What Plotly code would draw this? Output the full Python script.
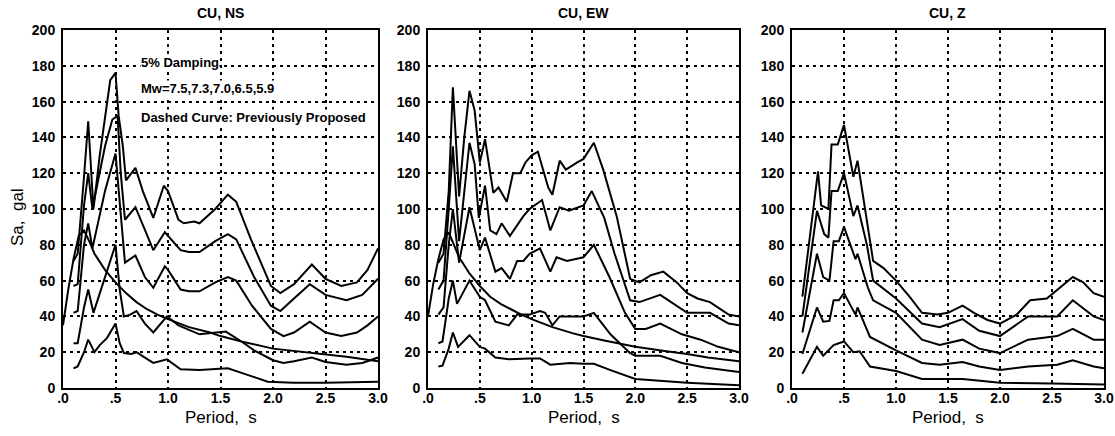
import plotly.graph_objects as go

# ---- CU, NS ----
ns_m75_t = [0.10, 0.14, 0.20, 0.24, 0.29, 0.35, 0.45, 0.50, 0.53, 0.57, 0.60, 0.69, 0.76, 0.86, 0.96, 1.00, 1.10, 1.15,
            1.25, 1.30, 1.45, 1.57, 1.65, 1.79, 1.90, 1.98, 2.07, 2.20, 2.37, 2.50, 2.65, 2.80, 2.90, 3.00]
ns_m75_sa = [71, 75, 118, 149, 100, 130, 172, 176, 152, 135, 116, 123, 110, 95, 113, 110, 94, 92,
             93, 92, 100, 108, 104, 83, 68, 57, 53, 58, 69, 61, 57, 59, 66, 78]
ns_m73_t = [0.10, 0.14, 0.20, 0.24, 0.28, 0.40, 0.47, 0.52, 0.55, 0.59, 0.69, 0.78, 0.86, 0.97, 1.00, 1.12, 1.20, 1.30,
            1.45, 1.57, 1.65, 1.82, 1.98, 2.07, 2.20, 2.35, 2.50, 2.70, 2.85, 3.00]
ns_m73_sa = [57, 58, 102, 120, 100, 135, 150, 152, 120, 94, 101, 88, 77, 87, 85, 77, 76, 76,
             82, 86, 83, 62, 46, 43, 50, 58, 52, 49, 52, 61]
ns_m70_t = [0.10, 0.14, 0.20, 0.24, 0.28, 0.40, 0.50, 0.55, 0.59, 0.69, 0.78, 0.86, 0.97, 1.00, 1.12, 1.20, 1.30, 1.45,
            1.57, 1.65, 1.80, 1.98, 2.10, 2.20, 2.35, 2.50, 2.65, 2.80, 2.90, 3.00]
ns_m70_sa = [42, 43, 80, 92, 78, 110, 131, 95, 70, 74, 62, 56, 68, 66, 55, 54, 54, 59,
             62, 60, 46, 33, 29, 31, 37, 31, 29, 31, 35, 40]
ns_m65_t = [0.10, 0.14, 0.20, 0.24, 0.29, 0.40, 0.50, 0.54, 0.58, 0.64, 0.70, 0.78, 0.86, 0.99, 1.10, 1.30, 1.45, 1.55,
            1.70, 1.82, 2.00, 2.10, 2.20, 2.37, 2.50, 2.70, 2.85, 3.00]
ns_m65_sa = [25, 25, 45, 55, 42, 62, 80, 55, 40, 41, 43, 36, 31, 40, 35, 30, 31, 31.5,
             26, 21, 15.5, 14, 15, 17, 14.5, 13, 14, 17]
ns_m59_t = [0.10, 0.14, 0.20, 0.24, 0.30, 0.35, 0.42, 0.50, 0.54, 0.58, 0.65, 0.70, 0.78, 0.86, 0.99, 1.12, 1.30, 1.57,
            1.75, 1.95, 2.20, 2.50, 3.00]
ns_m59_sa = [11, 12, 20, 27, 20, 24, 28, 36, 25, 19.5, 19, 20, 17, 14, 16, 10.5, 10, 11,
             7.5, 3.5, 3, 3, 3.5]
ns_prev_t = [0.00, 0.05, 0.10, 0.15, 0.20, 0.25, 0.30, 0.40, 0.50, 0.60, 0.70, 0.80, 0.90, 1.00, 1.20, 1.40, 1.50, 1.70,
             2.00, 2.30, 2.50, 2.70, 3.00]
ns_prev_sa = [35, 55, 72, 85, 88, 82, 75, 66, 59, 53, 48, 44, 41, 38.5, 34, 31, 29, 26,
              22, 20, 19, 17.5, 15]

# ---- CU, EW ----
ew_m75_t = [0.10, 0.15, 0.20, 0.24, 0.30, 0.35, 0.40, 0.45, 0.50, 0.55, 0.63, 0.68, 0.76, 0.82, 0.89, 0.94, 1.00, 1.06,
            1.16, 1.20, 1.27, 1.33, 1.44, 1.50, 1.60, 1.69, 1.82, 1.95, 2.04, 2.15, 2.27, 2.40, 2.50, 2.60, 2.72, 2.80,
            2.90, 3.00]
ew_m75_sa = [70, 75, 110, 168, 107, 140, 166, 155, 126, 139, 109, 112, 104, 120, 120, 126, 130, 132,
             112, 108, 127, 122, 126, 128, 137, 122, 96, 61, 59, 63, 65, 59, 53, 50, 48, 45,
             41, 40]
ew_m73_t = [0.10, 0.15, 0.20, 0.24, 0.30, 0.40, 0.45, 0.49, 0.55, 0.60, 0.66, 0.71, 0.79, 0.92, 0.98, 1.10, 1.18, 1.27,
            1.36, 1.50, 1.58, 1.70, 1.80, 1.95, 2.04, 2.24, 2.50, 2.72, 2.90, 3.00]
ew_m73_sa = [55, 60, 100, 135, 82, 137, 125, 95, 113, 88, 86, 92, 85, 96, 100, 105, 88, 101,
             99, 102, 110, 95, 75, 49, 48, 52, 42, 42, 36, 35]
ew_m70_t = [0.10, 0.15, 0.20, 0.24, 0.30, 0.40, 0.50, 0.55, 0.65, 0.71, 0.79, 0.86, 0.92, 0.98, 1.08, 1.18, 1.24, 1.34,
            1.50, 1.60, 1.75, 1.90, 2.00, 2.10, 2.24, 2.45, 2.63, 2.80, 3.00]
ew_m70_sa = [41, 45, 80, 100, 70, 101, 77, 84, 65, 67, 61, 71, 71, 75, 78, 65, 73, 71,
             73, 80, 62, 42, 33, 33, 36, 30, 27, 23, 20]
ew_m65_t = [0.10, 0.14, 0.20, 0.24, 0.28, 0.40, 0.50, 0.55, 0.65, 0.71, 0.78, 0.86, 0.98, 1.08, 1.13, 1.20, 1.27, 1.50,
            1.60, 1.76, 1.95, 2.00, 2.24, 2.45, 2.67, 3.00]
ew_m65_sa = [25, 26, 50, 60, 47, 60, 51, 49, 37, 36, 35, 41, 41, 43, 42, 35, 40, 40,
             42, 30, 19.5, 18, 18, 14, 11.5, 9]
ew_m59_t = [0.10, 0.14, 0.20, 0.24, 0.29, 0.40, 0.50, 0.55, 0.65, 0.78, 0.98, 1.08, 1.18, 1.37, 1.50, 1.60, 1.76, 2.00,
            2.50, 3.00]
ew_m59_sa = [12, 12.5, 22, 31, 23, 29.5, 23, 22, 17, 16, 16.5, 16.5, 13, 14, 13.5, 13.5, 10, 5,
             3, 1.5]
ew_prev_t = [0.00, 0.05, 0.10, 0.15, 0.20, 0.25, 0.30, 0.40, 0.50, 0.60, 0.70, 0.80, 0.90, 1.00, 1.20, 1.40, 1.50, 1.70,
             2.00, 2.30, 2.50, 2.70, 3.00]
ew_prev_sa = [40, 58, 72, 83, 87, 80, 73, 64, 57, 51, 47, 44, 41, 38.5, 34, 30.5, 29, 26.5,
              23, 20.5, 19, 17, 15]

# ---- CU, Z ----
z_m75_t = [0.10, 0.25, 0.28, 0.35, 0.38, 0.44, 0.50, 0.59, 0.63, 0.72, 0.78, 0.88, 1.00, 1.13, 1.25, 1.40, 1.50, 1.64,
           1.75, 1.88, 2.00, 2.16, 2.29, 2.45, 2.55, 2.70, 2.80, 2.90, 3.00]
z_m75_sa = [51, 121, 102, 100, 136, 136, 147, 118, 127, 92, 71, 67, 60, 51, 42, 41, 42, 46,
            42, 38, 36, 41, 49, 50, 55, 62, 59, 53, 51]
z_m73_t = [0.10, 0.24, 0.31, 0.35, 0.38, 0.44, 0.50, 0.59, 0.63, 0.72, 0.78, 1.00, 1.25, 1.42, 1.64, 1.80, 2.00, 2.27,
           2.55, 2.70, 2.90, 3.00]
z_m73_sa = [40, 99, 86, 84, 110, 110, 120, 96, 102, 80, 60, 50, 36, 34, 38.5, 32, 29, 40,
            40, 49, 40, 38]
z_m70_t = [0.10, 0.24, 0.30, 0.36, 0.40, 0.45, 0.50, 0.61, 0.63, 0.73, 0.78, 1.00, 1.25, 1.42, 1.64, 1.80, 2.00, 2.27,
           2.55, 2.70, 2.90, 3.00]
z_m70_sa = [31, 75, 62, 60, 82, 82, 90, 72, 75, 56, 49, 42, 27, 24, 27, 22, 19.5, 27,
            29, 33, 27, 27]
z_m65_t = [0.10, 0.24, 0.30, 0.36, 0.40, 0.45, 0.50, 0.61, 0.63, 0.75, 1.00, 1.25, 1.42, 1.64, 1.80, 2.00, 2.27, 2.55,
           2.70, 2.90, 3.00]
z_m65_sa = [19, 45, 37, 37.5, 49, 49, 53, 41, 45, 28.5, 21, 14, 13, 14.5, 12, 10, 12, 13,
            15.5, 12, 11]
z_m59_t = [0.10, 0.24, 0.30, 0.40, 0.50, 0.59, 0.65, 0.75, 1.00, 1.25, 1.64, 2.00, 2.50, 3.00]
z_m59_sa = [8, 23, 18, 24, 26, 20, 20.5, 12, 9.5, 5, 5, 3, 2.5, 2]

# Axis ticks and labels
x_tick_vals = [0, 0.5, 1.0, 1.5, 2.0, 2.5, 3.0]
x_tick_text = [".0", ".5", "1.0", "1.5", "2.0", "2.5", "3.0"]
y_tick_vals = [0, 20, 40, 60, 80, 100, 120, 140, 160, 180, 200]
panel_titles = ["CU, NS", "CU, EW", "CU, Z"]
note_lines = ["5% Damping", "Mw=7.5,7.3,7.0,6.5,5.9", "Dashed Curve: Previously Proposed"]

W, H = 1115, 436
panel_px = [(63, 378), (428, 739), (792, 1104)]
plot_top, plot_bottom = 30, 388

panels = [
    [(ns_m75_t, ns_m75_sa), (ns_m73_t, ns_m73_sa), (ns_m70_t, ns_m70_sa), (ns_m65_t, ns_m65_sa),
     (ns_m59_t, ns_m59_sa), (ns_prev_t, ns_prev_sa)],
    [(ew_m75_t, ew_m75_sa), (ew_m73_t, ew_m73_sa), (ew_m70_t, ew_m70_sa), (ew_m65_t, ew_m65_sa),
     (ew_m59_t, ew_m59_sa), (ew_prev_t, ew_prev_sa)],
    [(z_m75_t, z_m75_sa), (z_m73_t, z_m73_sa), (z_m70_t, z_m70_sa), (z_m65_t, z_m65_sa),
     (z_m59_t, z_m59_sa)],
]

FONT = "Liberation Sans"
fig = go.Figure()
layout = dict(
    width=W, height=H, margin=dict(l=0, r=0, t=0, b=0, autoexpand=False),
    paper_bgcolor="white", plot_bgcolor="white", showlegend=False,
    font=dict(family=FONT, color="black"),
)
annotations = []

for i, curves in enumerate(panels):
    suffix = "" if i == 0 else str(i + 1)
    xa, ya = "x" + suffix, "y" + suffix
    for t, sa in curves:
        fig.add_trace(go.Scatter(x=t, y=sa, mode="lines", xaxis=xa, yaxis=ya,
                                 line=dict(color="black", width=2), hoverinfo="skip"))
    x0, x1 = panel_px[i]
    common = dict(
        showline=True, mirror=True, linecolor="black", linewidth=2,
        showgrid=True, gridcolor="black", gridwidth=2, griddash="3px,4px",
        zeroline=False, ticks="", automargin=False,
        tickfont=dict(family=FONT, size=14, weight="bold", color="black"),
    )
    layout["xaxis" + suffix] = dict(
        common, domain=[x0 / W, x1 / W], range=[0, 3.0], anchor=ya,
        tickvals=x_tick_vals, ticktext=x_tick_text, ticklabelstandoff=-4,
    )
    layout["yaxis" + suffix] = dict(
        common, domain=[1 - plot_bottom / H, 1 - plot_top / H], range=[0, 200], anchor=xa,
        tickvals=y_tick_vals, ticklabelstandoff=3,
    )
    xc = (x0 + x1) / 2 / W
    annotations.append(dict(text=panel_titles[i], x=xc, y=1 - 13 / H, xref="paper", yref="paper",
                            showarrow=False, font=dict(size=14, weight="bold"), xanchor="center",
                            yanchor="middle"))
    annotations.append(dict(text="Period,  s", x=xc, y=1 - 417 / H, xref="paper", yref="paper",
                            showarrow=False, font=dict(size=17), xanchor="center", yanchor="middle"))

annotations.append(dict(text="Sa,  gal", x=17 / W, y=1 - 217 / H, xref="paper", yref="paper",
                        showarrow=False, textangle=-90, font=dict(size=17),
                        xanchor="center", yanchor="middle"))

for line, ypx in zip(note_lines, [62, 88, 117]):
    annotations.append(dict(text=line, x=140 / W, y=1 - ypx / H, xref="paper", yref="paper",
                            showarrow=False, font=dict(size=13, weight="bold"),
                            xanchor="left", yanchor="middle", bgcolor="white", borderpad=0))

layout["annotations"] = annotations
fig.update_layout(**layout)
fig.write_html("out.html", post_script="document.body.style.margin='0';")
